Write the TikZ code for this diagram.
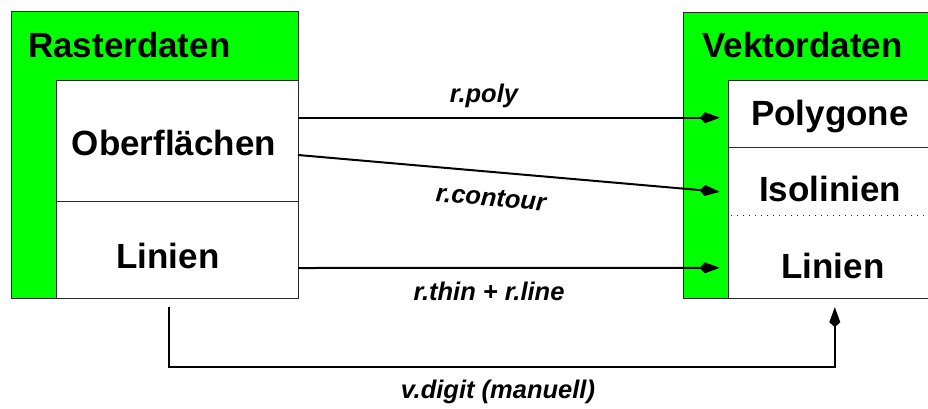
\documentclass[tikz,border=0pt]{standalone}
\usepackage{fontspec}
\setmainfont{Liberation Sans}
\usetikzlibrary{arrows.meta,calc}
\definecolor{boxgreen}{HTML}{00FF00}
\definecolor{edgegray}{HTML}{2A2A2A}
\tikzset{
  outerbox/.style={draw=edgegray,line width=0.9pt,fill=boxgreen,rectangle,inner sep=0pt,outer sep=0pt},
  cell/.style={draw=edgegray,line width=0.9pt,fill=white,rectangle,inner sep=0pt,outer sep=0pt},
  bigtext/.style={inner sep=0pt,font=\fontsize{35}{40}\selectfont\bfseries},
  lbl/.style={inner sep=0pt,font=\fontsize{25.5}{30}\selectfont\bfseries\itshape},
  conn/.style={line width=2pt,-{Kite[length=20pt,width=11pt,inset=5pt]}},
  sepline/.style={line width=0.9pt,edgegray,dash pattern=on 1.2pt off 4.8pt},
}
\begin{document}
\begin{tikzpicture}[x=1pt,y=-1pt]
\useasboundingbox (0,0) rectangle (928,408);
% left block
\node[outerbox,minimum width=287pt,minimum height=287pt] (raster) at (154.5,154.5) {};
\node[cell,minimum width=242pt,minimum height=121pt] (obf) at (177,140.5) {};
\node[cell,minimum width=242pt,minimum height=97pt] (linL) at (177,249.5) {};
% right block
\node[outerbox,minimum width=250pt,minimum height=286pt] (vektor) at (808,155) {};
\node[cell,minimum width=206pt,minimum height=67pt] (poly) at (831,113.5) {};
\node[cell,minimum width=206pt,minimum height=151pt] (lower) at (831,222.5) {};
\node[inner sep=0pt,minimum width=206pt,minimum height=68pt] (iso) at (831,181) {};
\node[inner sep=0pt,minimum width=206pt,minimum height=83pt] (linR) at (831,256.5) {};
\draw[sepline] ($(iso.south west)+(3,0)$) -- (iso.south east);
% texts
\node[bigtext,anchor=base west] (tRaster) at (28,57) {Rasterdaten};
\node[bigtext,anchor=base west] (tVektor) at (702,57) {Vektordaten};
\node[bigtext,anchor=base] (tObf) at (174,155) {Oberflächen};
\node[bigtext,anchor=base] (tLinL) at (168,268) {Linien};
\node[bigtext,anchor=base] (tPoly) at (830,125) {Polygone};
\node[bigtext,anchor=base] (tIso) at (830,201) {Isolinien};
\node[bigtext,anchor=base] (tLinR) at (833,278) {Linien};
% connectors
\draw[conn] ($(obf.north east)+(0,37.7)$) -- ($(poly.north west)+(-8,37.7)$);
\draw[conn] ($(obf.north east)+(0,75)$) -- ($(iso.north west)+(-8,45)$);
\draw[conn] ($(linL.north east)+(0,67)$) -- ($(linR.north west)+(-8,53)$);
\draw[conn] ($(linL.south west)+(113,9)$) -- ++(0,60) -| ($(linR.south west)+(107,9)$);
% labels
\node[lbl,anchor=base] (lPoly) at (484,102) {r.poly};
\node[lbl,rotate=-5] (lCont) at (491,198) {r.contour};
\node[lbl,anchor=base] (lThin) at (489,300) {r.thin + r.line};
\node[lbl,anchor=base] (lDigit) at (498,398) {v.digit (manuell)};
\end{tikzpicture}
\end{document}
